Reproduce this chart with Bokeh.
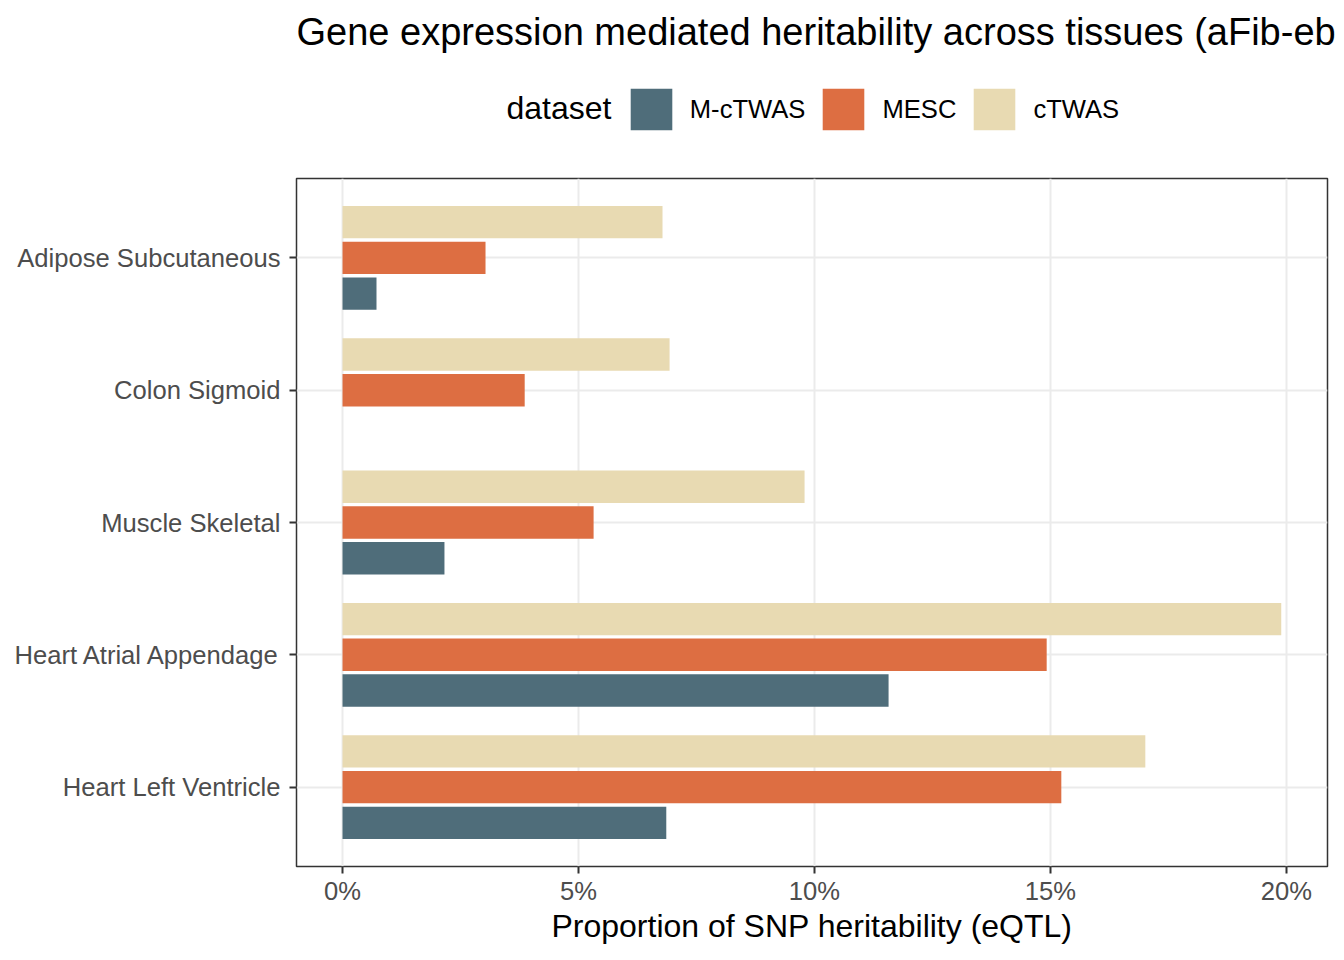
from bokeh.plotting import figure
from bokeh.layouts import column
from bokeh.models import (FactorRange, Range1d, Legend, LegendItem, Label,
                          FixedTicker, NumeralTickFormatter, ColumnDataSource)
from bokeh.transform import dodge
from bokeh.embed import file_html
from bokeh.resources import INLINE

# ---- data ----
tissues = ["Adipose Subcutaneous", "Colon Sigmoid", "Muscle Skeletal",
           "Heart Atrial Appendage", "Heart Left Ventricle"]
m_ctwas = [0.0072, 0.0, 0.0216, 0.1157, 0.0686]
mesc = [0.0303, 0.0386, 0.0532, 0.1492, 0.1523]
ctwas = [0.0678, 0.0693, 0.0979, 0.1989, 0.1701]
datasets = ["M-cTWAS", "MESC", "cTWAS"]
colors = ["#4F6D7A", "#DD6E42", "#E8DAB2"]
x_ticks = [0.0, 0.05, 0.10, 0.15, 0.20]
title_text = "Gene expression mediated heritability across tissues (aFib-ebi)"
x_label = "Proportion of SNP heritability (eQTL)"
legend_title = "dataset"

FONT = "Liberation Sans"
W, H = 1336, 952
HEAD_H = 176
ML, MR, MT, MB = 296, 9, 2, 86

source = ColumnDataSource(data=dict(tissue=tissues, **{"M-cTWAS": m_ctwas, "MESC": mesc, "cTWAS": ctwas}))

# ---------------- header: title + legend ----------------
head = figure(width=W, height=HEAD_H, x_range=Range1d(0, 1), y_range=Range1d(0, 1),
              output_backend="svg", toolbar_location=None,
              min_border=0, min_border_left=0, min_border_right=0,
              min_border_top=0, min_border_bottom=0)
head.frame_align = False
head.axis.visible = False
head.grid.visible = False
head.outline_line_color = None
head.background_fill_color = "white"
head.border_fill_color = "white"

head.add_layout(Label(x=296, y=HEAD_H - 31, x_units="screen", y_units="screen",
                      text=title_text, text_font=FONT, text_font_size="38px",
                      text_color="black", text_baseline="alphabetic"))
head.add_layout(Label(x=506, y=HEAD_H - 107, x_units="screen", y_units="screen",
                      text=legend_title, text_font=FONT, text_font_size="32px",
                      text_color="black", text_baseline="alphabetic"))

key_renderers = []
keysrc = ColumnDataSource(data=dict(y=[-5.0], right=[0.0]))
for col in colors:
    key_renderers.append(head.hbar(y="y", right="right", height=0.1, source=keysrc,
                                   fill_color=col, line_color=None))
legend = Legend(items=[LegendItem(label=n, renderers=[r]) for n, r in zip(datasets, key_renderers)],
                orientation="horizontal", location=(624.8, HEAD_H - 135.2),
                glyph_width=52, glyph_height=52, label_standoff=13, spacing=12,
                padding=0, margin=0, border_line_color=None, background_fill_alpha=0,
                label_text_font=FONT, label_text_font_size="25.6px", label_text_color="black")
head.add_layout(legend)

# ---------------- main panel ----------------
p = figure(width=W, height=H - HEAD_H,
           y_range=FactorRange(factors=list(reversed(tissues)), range_padding=0.1,
                               range_padding_units="absolute"),
           x_range=Range1d(-0.00975, 0.2087),
           output_backend="svg", toolbar_location=None,
           min_border_left=ML, min_border_right=MR,
           min_border_top=MT, min_border_bottom=MB)

offsets = [-0.27, 0.0, 0.27]
for name, col, off in zip(datasets, colors, offsets):
    p.hbar(y=dodge("tissue", off, range=p.y_range), left=0, right=name,
           height=0.245, source=source, fill_color=col, line_color=None)

for ax in (p.xaxis, p.yaxis):
    ax.axis_line_color = None
    ax.major_tick_line_color = "#333333"
    ax.major_tick_line_width = 2
    ax.major_tick_out = 7
    ax.major_tick_in = 0
    ax.minor_tick_line_color = None
    ax.major_label_text_font = FONT
    ax.major_label_text_font_size = "25.6px"
    ax.major_label_text_color = "#4D4D4D"

p.xaxis.ticker = FixedTicker(ticks=x_ticks)
p.xaxis.formatter = NumeralTickFormatter(format="0%")
p.xaxis.major_label_standoff = 3
p.xaxis.axis_label = x_label
p.xaxis.axis_label_text_font = FONT
p.xaxis.axis_label_text_font_size = "32px"
p.xaxis.axis_label_text_font_style = "normal"
p.xaxis.axis_label_text_color = "black"
p.xaxis.axis_label_standoff = 0
p.yaxis.major_label_standoff = 9

p.xgrid.ticker = FixedTicker(ticks=x_ticks)
p.xgrid.grid_line_color = "#EBEBEB"
p.xgrid.grid_line_width = 2
p.ygrid.grid_line_color = "#EBEBEB"
p.ygrid.grid_line_width = 2

p.outline_line_color = "#333333"
p.outline_line_width = 1.5
p.background_fill_color = "white"
p.border_fill_color = "white"

layout = column(head, p, spacing=0)
open("out.html", "w").write(file_html(layout, INLINE))
